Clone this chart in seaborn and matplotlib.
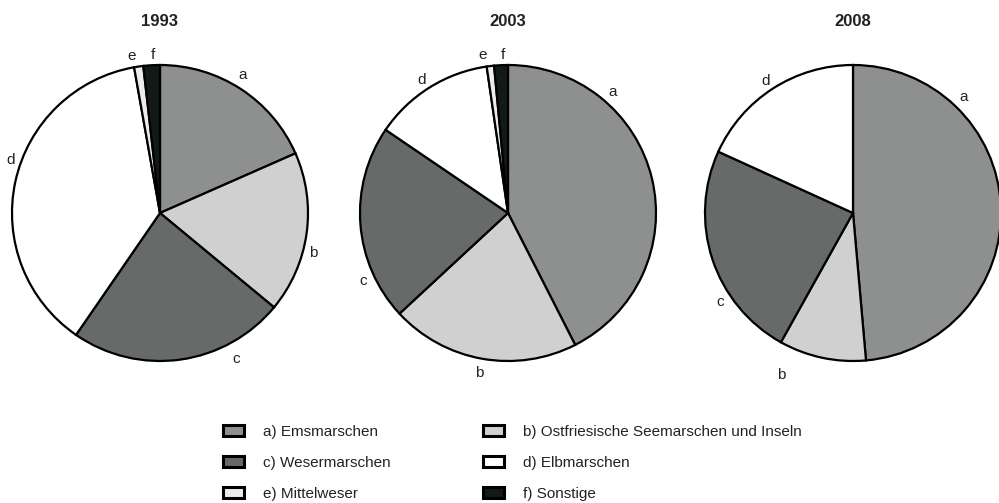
import matplotlib
matplotlib.use("Agg")
import numpy as np
import matplotlib.pyplot as plt
from matplotlib.patches import Patch
import seaborn as sns

years = ["1993", "2003", "2008"]
letters = ["a", "b", "c", "d", "e", "f"]
names = ["a) Emsmarschen", "b) Ostfriesische Seemarschen und Inseln",
         "c) Wesermarschen", "d) Elbmarschen", "e) Mittelweser", "f) Sonstige"]
shares_1993 = [18.4, 17.6, 23.6, 37.6, 1.0, 1.8]
shares_2003 = [42.5, 20.6, 21.4, 13.2, 0.8, 1.5]
shares_2008 = [48.6, 9.5, 23.7, 18.2, 0.0, 0.0]
colors = ["#8e8f8f", "#d0d0d0", "#666b6a", "#ffffff", "#ececec", "#111a18"]

# where the letters sit (degrees, counter-clockwise from 3 o'clock) and how far out
label_angles = [[59, -14.7, -62.5, 160.3, 100.4, 92.5],
                [49.3, -100, 205, 123, 99, 91.8],
                [46.3, -114, 213.7, 123.6, None, None]]
label_dist = [[1.09, 1.07, 1.11, 1.07, 1.08, 1.07],
              [1.08, 1.1, 1.08, 1.07, 1.08, 1.07],
              [1.08, 1.2, 1.08, 1.07, None, None]]

sns.set_theme(style="white")
plt.rcParams['font.family'] = ['Liberation Sans', 'DejaVu Sans']

W, H = 999, 503
fig = plt.figure(figsize=(W / 100, H / 100), dpi=100)

R = 148
pad = 1.3
centers = [(160, 213), (508, 213), (853, 213)]
data = [shares_1993, shares_2003, shares_2008]

for k, ((cx, cy), year, vals) in enumerate(zip(centers, years, data)):
    size = 2 * R * pad
    ax = fig.add_axes([(cx - size / 2) / W, (H - cy - size / 2) / H, size / W, size / H])
    keep = [i for i, v in enumerate(vals) if v > 0]
    ax.pie([vals[i] for i in keep],
           colors=[colors[i] for i in keep],
           startangle=90, counterclock=False,
           wedgeprops=dict(edgecolor="black", linewidth=1.6))
    for i in keep:
        ang = np.deg2rad(label_angles[k][i])
        d = label_dist[k][i]
        ax.text(d * np.cos(ang), d * np.sin(ang), letters[i], ha="center", va="center",
                fontsize=11, color="#222222")
    ax.set_xlim(-pad, pad)
    ax.set_ylim(-pad, pad)
    ax.set_aspect("equal")
    ax.axis("off")
    fig.text(cx / W, 1 - 22 / H, year, ha="center", va="center",
             fontsize=12, fontweight="bold", color="#222222")

handles = [Patch(facecolor=c, edgecolor="black", linewidth=2.2) for c in colors]

for col, x0 in enumerate([223, 483]):
    idx = [col, col + 2, col + 4]
    leg = fig.legend([handles[i] for i in idx], [names[i] for i in idx],
                     loc="upper left", bbox_to_anchor=(x0 / W, 1 - 425 / H),
                     frameon=False, fontsize=11, handlelength=1.4,
                     handleheight=0.7, handletextpad=1.2, labelspacing=1.1,
                     borderaxespad=0, borderpad=0)
    for t in leg.get_texts():
        t.set_color("#222222")

fig.savefig("out.png", dpi=100)
